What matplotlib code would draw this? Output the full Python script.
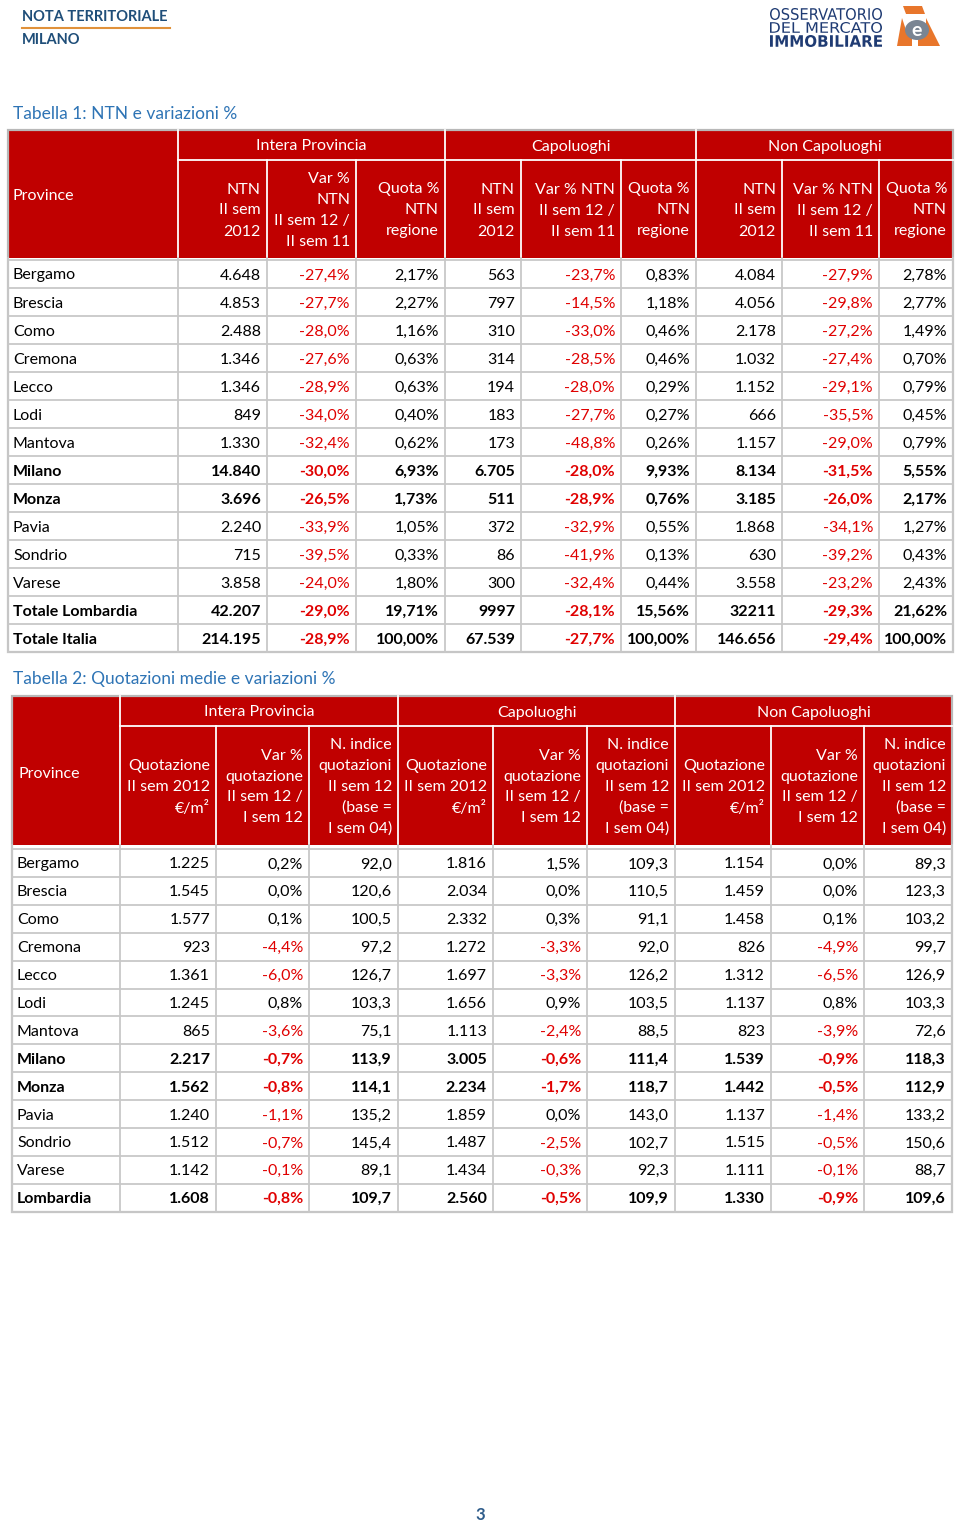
import matplotlib.pyplot as plt
from matplotlib.patches import Rectangle, PathPatch, Polygon, Ellipse
from matplotlib.textpath import TextPath
from matplotlib.font_manager import FontProperties
from matplotlib.transforms import Affine2D

plt.rcParams['font.family'] = ['Lato', 'DejaVu Sans']

RED = '#c00000'
NEG = '#e00000'
GRID = '#c8c8c8'
BLUE = '#2e74b5'
NAVY = '#1f4e79'

# ---------------- data: Tabella 1 ----------------
t1_rows = ["Bergamo", "Brescia", "Como", "Cremona", "Lecco", "Lodi", "Mantova",
           "Milano", "Monza", "Pavia", "Sondrio", "Varese",
           "Totale Lombardia", "Totale Italia"]
t1_ntn_prov = ["4.648", "4.853", "2.488", "1.346", "1.346", "849", "1.330",
               "14.840", "3.696", "2.240", "715", "3.858", "42.207", "214.195"]
t1_var_prov = ["-27,4%", "-27,7%", "-28,0%", "-27,6%", "-28,9%", "-34,0%", "-32,4%",
               "-30,0%", "-26,5%", "-33,9%", "-39,5%", "-24,0%", "-29,0%", "-28,9%"]
t1_quota_prov = ["2,17%", "2,27%", "1,16%", "0,63%", "0,63%", "0,40%", "0,62%",
                 "6,93%", "1,73%", "1,05%", "0,33%", "1,80%", "19,71%", "100,00%"]
t1_ntn_cap = ["563", "797", "310", "314", "194", "183", "173",
              "6.705", "511", "372", "86", "300", "9997", "67.539"]
t1_var_cap = ["-23,7%", "-14,5%", "-33,0%", "-28,5%", "-28,0%", "-27,7%", "-48,8%",
              "-28,0%", "-28,9%", "-32,9%", "-41,9%", "-32,4%", "-28,1%", "-27,7%"]
t1_quota_cap = ["0,83%", "1,18%", "0,46%", "0,46%", "0,29%", "0,27%", "0,26%",
                "9,93%", "0,76%", "0,55%", "0,13%", "0,44%", "15,56%", "100,00%"]
t1_ntn_non = ["4.084", "4.056", "2.178", "1.032", "1.152", "666", "1.157",
              "8.134", "3.185", "1.868", "630", "3.558", "32211", "146.656"]
t1_var_non = ["-27,9%", "-29,8%", "-27,2%", "-27,4%", "-29,1%", "-35,5%", "-29,0%",
              "-31,5%", "-26,0%", "-34,1%", "-39,2%", "-23,2%", "-29,3%", "-29,4%"]
t1_quota_non = ["2,78%", "2,77%", "1,49%", "0,70%", "0,79%", "0,45%", "0,79%",
                "5,55%", "2,17%", "1,27%", "0,43%", "2,43%", "21,62%", "100,00%"]

t1_groups = ["Intera Provincia", "Capoluoghi", "Non Capoluoghi"]
t1_heads = [["NTN", "II sem", "2012"], ["Var %", "NTN", "II sem 12 /", "II sem 11"],
            ["Quota %", "NTN", "regione"],
            ["NTN", "II sem", "2012"], ["Var % NTN", "II sem 12 /", "II sem 11"],
            ["Quota %", "NTN", "regione"],
            ["NTN", "II sem", "2012"], ["Var % NTN", "II sem 12 /", "II sem 11"],
            ["Quota %", "NTN", "regione"]]

# ---------------- data: Tabella 2 ----------------
t2_rows = ["Bergamo", "Brescia", "Como", "Cremona", "Lecco", "Lodi", "Mantova",
           "Milano", "Monza", "Pavia", "Sondrio", "Varese", "Lombardia"]
t2_quot_prov = ["1.225", "1.545", "1.577", "923", "1.361", "1.245", "865",
                "2.217", "1.562", "1.240", "1.512", "1.142", "1.608"]
t2_var_prov = ["0,2%", "0,0%", "0,1%", "-4,4%", "-6,0%", "0,8%", "-3,6%",
               "-0,7%", "-0,8%", "-1,1%", "-0,7%", "-0,1%", "-0,8%"]
t2_idx_prov = ["92,0", "120,6", "100,5", "97,2", "126,7", "103,3", "75,1",
               "113,9", "114,1", "135,2", "145,4", "89,1", "109,7"]
t2_quot_cap = ["1.816", "2.034", "2.332", "1.272", "1.697", "1.656", "1.113",
               "3.005", "2.234", "1.859", "1.487", "1.434", "2.560"]
t2_var_cap = ["1,5%", "0,0%", "0,3%", "-3,3%", "-3,3%", "0,9%", "-2,4%",
              "-0,6%", "-1,7%", "0,0%", "-2,5%", "-0,3%", "-0,5%"]
t2_idx_cap = ["109,3", "110,5", "91,1", "92,0", "126,2", "103,5", "88,5",
              "111,4", "118,7", "143,0", "102,7", "92,3", "109,9"]
t2_quot_non = ["1.154", "1.459", "1.458", "826", "1.312", "1.137", "823",
               "1.539", "1.442", "1.137", "1.515", "1.111", "1.330"]
t2_var_non = ["0,0%", "0,0%", "0,1%", "-4,9%", "-6,5%", "0,8%", "-3,9%",
              "-0,9%", "-0,5%", "-1,4%", "-0,5%", "-0,1%", "-0,9%"]
t2_idx_non = ["89,3", "123,3", "103,2", "99,7", "126,9", "103,3", "72,6",
              "118,3", "112,9", "133,2", "150,6", "88,7", "109,6"]

t2_groups = ["Intera Provincia", "Capoluoghi", "Non Capoluoghi"]
t2_heads = [["Quotazione", "II sem 2012", "€/m²"],
            ["Var %", "quotazione", "II sem 12 /", "I sem 12"],
            ["N. indice", "quotazioni", "II sem 12", "(base =", "I sem 04)"]] * 3

bold_rows = {"Milano", "Monza", "Totale Lombardia", "Totale Italia", "Lombardia"}

fig = plt.figure(figsize=(9.6, 15.25), dpi=100)
ax = fig.add_axes([0, 0, 1, 1])
ax.set_xlim(0, 960)
ax.set_ylim(1525, 0)
ax.axis('off')

FS = 11.5
DY = 1.5  # small baseline nudge so text sits like the original


def fit_text(s, x0, y0, x1, y1, weight, color):
    tp = TextPath((0, 0), s, size=10, prop=FontProperties(family='DejaVu Sans', weight=weight))
    ext = tp.get_extents()
    tr = (Affine2D().translate(-ext.x0, -ext.y0)
          .scale((x1 - x0) / ext.width, -(y1 - y0) / ext.height)
          .translate(x0, y1) + ax.transData)
    ax.add_patch(PathPatch(tp, transform=tr, color=color, lw=0))


def draw_table(xs, top, gbot, hbot, body_top, row_h, groups, heads, rows, cols,
               prov_y, prov_x, lead=21):
    n = len(rows)
    bottom = body_top + n * row_h
    # header block
    ax.add_patch(Rectangle((xs[0], top), xs[-1] - xs[0], hbot - top, color=RED, lw=0))
    ax.plot([xs[1], xs[-1]], [gbot, gbot], color='white', lw=1.3)
    for i, x in enumerate(xs[1:-1], start=1):
        y_start = top if (i - 1) % 3 == 0 else gbot
        ax.plot([x, x], [y_start, hbot], color='white', lw=1.3)
    ax.text(prov_x, prov_y + DY, "Province", color='white', fontsize=FS, ha='left', va='center')
    for g, name in enumerate(groups):
        ax.text((xs[1 + 3 * g] + xs[4 + 3 * g]) / 2, (top + gbot) / 2 + DY, name,
                color='white', fontsize=FS, ha='center', va='center')
    hmid = (gbot + hbot) / 2
    for c, lines in enumerate(heads):
        m = len(lines)
        for k, ln in enumerate(lines):
            ax.text(xs[c + 2] - 6, hmid + (k - (m - 1) / 2) * lead + DY, ln, color='white',
                    fontsize=FS, ha='right', va='center')
    # body grid
    for r in range(n + 1):
        y = body_top + r * row_h
        ax.plot([xs[0], xs[-1]], [y, y], color=GRID, lw=1.3)
    for x in xs:
        ax.plot([x, x], [hbot, bottom], color=GRID, lw=1.3)
    ax.add_patch(Rectangle((xs[0], top), xs[-1] - xs[0], bottom - top, fill=False,
                           ec='#b8b8b8', lw=1.6))
    # body text
    for r, name in enumerate(rows):
        yc = body_top + (r + 0.5) * row_h + DY
        w = 'bold' if name in bold_rows else 'normal'
        ax.text(xs[0] + 5, yc, name, fontsize=FS, ha='left', va='center',
                fontweight=w, color='black')
        for c, col in enumerate(cols):
            v = col[r]
            ax.text(xs[c + 2] - 6, yc, v, fontsize=FS, ha='right', va='center',
                    fontweight=w, color=NEG if v.startswith('-') else 'black')


# page header
ax.text(22, 17, "NOTA TERRITORIALE", fontsize=10.5, fontweight='bold', color=NAVY,
        ha='left', va='center')
ax.plot([22, 170], [28, 28], color='#e0913a', lw=1.5)
ax.text(22, 40, "MILANO", fontsize=10.5, fontweight='bold', color=NAVY,
        ha='left', va='center')

# logo
fit_text("OSSERVATORIO", 770, 8, 882, 20, 'normal', '#1f3b73')
fit_text("DEL MERCATO", 770, 22, 882, 33, 'normal', '#1f3b73')
fit_text("IMMOBILIARE", 770, 35, 882, 47, 'bold', '#1f3b73')
ax.add_patch(Polygon([(903, 6), (922, 6), (925, 14), (906, 14)], color='#e8762b', lw=0))
ax.add_patch(Polygon([(902, 18), (897, 46), (912, 46), (912, 38), (906, 30)], color='#e8762b', lw=0))
ax.add_patch(Polygon([(926, 18), (940, 46), (918, 46), (918, 38), (926, 32)], color='#e8762b', lw=0))
ax.add_patch(Ellipse((917, 30), 24, 20, color='#7a8593', lw=0))
ax.text(917, 30, "e", fontsize=14, fontweight='bold', color='white', ha='center', va='center')

# titles
ax.text(13, 114, "Tabella 1: NTN e variazioni %", fontsize=12.5, color=BLUE,
        ha='left', va='center')
ax.text(13, 679, "Tabella 2: Quotazioni medie e variazioni %", fontsize=12.5, color=BLUE,
        ha='left', va='center')

xs1 = [8, 178, 267, 356, 445, 521, 621, 696, 782, 879, 953]
draw_table(xs1, 130, 160, 258, 260, 28, t1_groups, t1_heads, t1_rows,
           [t1_ntn_prov, t1_var_prov, t1_quota_prov, t1_ntn_cap, t1_var_cap,
            t1_quota_cap, t1_ntn_non, t1_var_non, t1_quota_non],
           prov_y=195, prov_x=13)

xs2 = [12, 120, 216, 309, 398, 493, 587, 675, 771, 864, 952]
draw_table(xs2, 696, 726, 845, 849, 27.9, t2_groups, t2_heads, t2_rows,
           [t2_quot_prov, t2_var_prov, t2_idx_prov, t2_quot_cap, t2_var_cap,
            t2_idx_cap, t2_quot_non, t2_var_non, t2_idx_non],
           prov_y=772, prov_x=19)

ax.text(480, 1515, "3", fontsize=12, fontweight='bold', color='#2e5c8a',
        ha='center', va='center')

fig.savefig("out.png", dpi=100)
